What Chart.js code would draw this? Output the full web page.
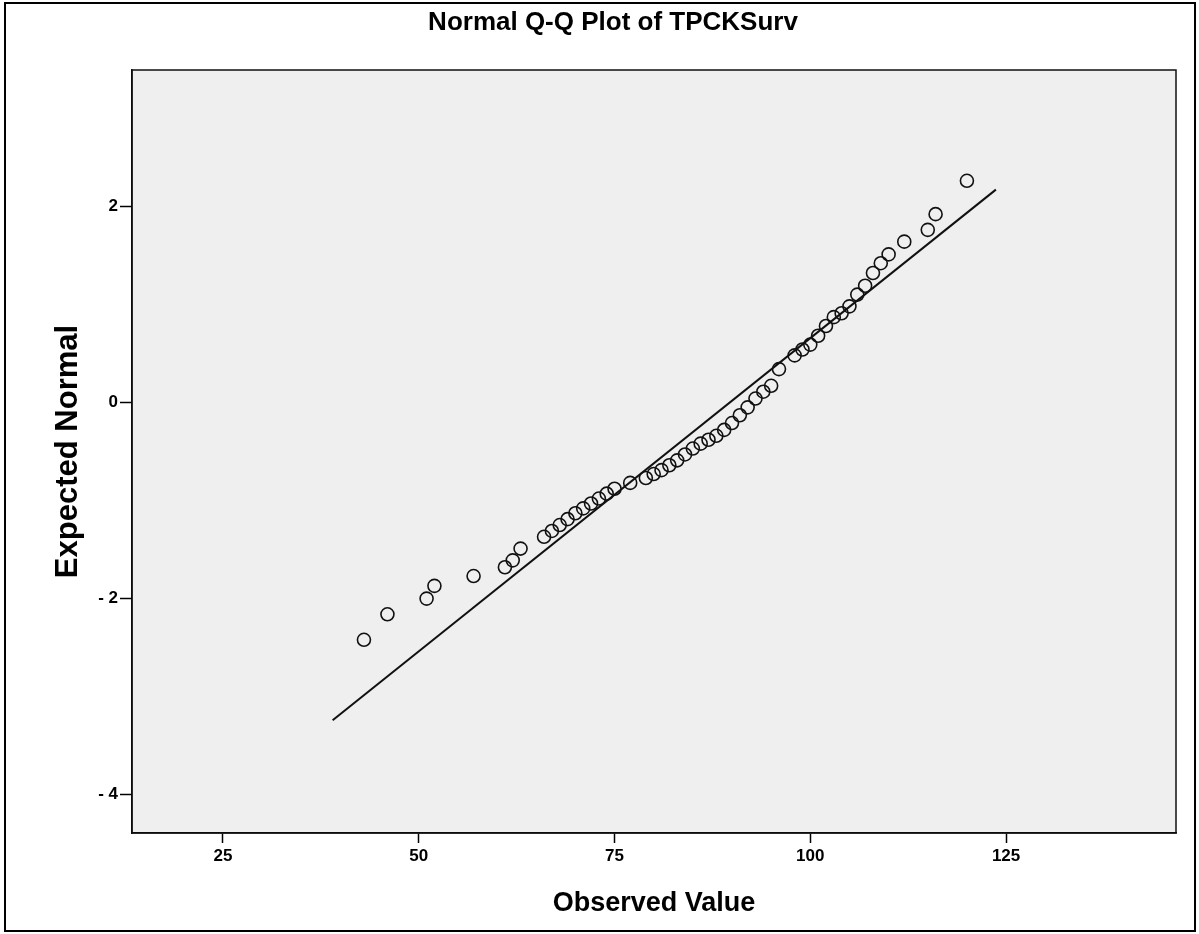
<!DOCTYPE html>
<html lang="en">
<head>
<meta charset="UTF-8">
<title>Normal Q-Q Plot of TPCKSurv</title>
<script src="https://cdn.jsdelivr.net/npm/chart.js"></script>
<style>
  html, body { margin: 0; padding: 0; background: #fff; }
  #wrap { position: relative; width: 1199px; height: 934px; }
</style>
</head>
<body>
<div id="wrap"><canvas id="qq"></canvas></div>
<script>
const observed = [43, 46, 51, 52, 57, 61, 62, 63, 66, 67, 68, 69, 70, 71, 72, 73, 74, 75, 77,
  79, 80, 81, 82, 83, 84, 85, 86, 87, 88, 89, 90, 91, 92, 93, 94, 95, 96,
  98, 99, 100, 101, 102, 103, 104, 105, 106, 107, 108, 109, 110, 112, 115, 116, 120];
const expected = [-2.42, -2.16, -2.00, -1.87, -1.77, -1.68, -1.61, -1.49, -1.37, -1.31, -1.25, -1.19, -1.13, -1.08, -1.03, -0.98, -0.93, -0.88, -0.82,
  -0.77, -0.73, -0.69, -0.64, -0.59, -0.53, -0.47, -0.42, -0.38, -0.34, -0.28, -0.21, -0.13, -0.05, 0.04, 0.11, 0.17, 0.34,
  0.48, 0.54, 0.59, 0.68, 0.78, 0.87, 0.91, 0.98, 1.10, 1.19, 1.32, 1.42, 1.51, 1.64, 1.76, 1.92, 2.26];

// reference line end points
const lineX = [39.0, 123.7];
const lineY = [-3.24, 2.17];

const xTicks = [25, 50, 75, 100, 125];
const yTicks = [2, 0, -2, -4];
const xRange = [13.38, 146.7];
const yRange = [-4.39, 3.39];

const FONT = "'Liberation Sans', Arial, Helvetica, sans-serif";

const points = observed.map((v, i) => ({ x: v, y: expected[i] }));
const refLine = lineX.map((v, i) => ({ x: v, y: lineY[i] }));

// grey plot area, outer frame and box around the plot
const frame = {
  id: 'frame',
  beforeDraw(chart) {
    const { ctx, chartArea: a } = chart;
    ctx.save();
    ctx.fillStyle = '#ffffff';
    ctx.fillRect(0, 0, chart.width, chart.height);
    ctx.fillStyle = '#efefef';
    ctx.fillRect(a.left, a.top, a.right - a.left, a.bottom - a.top);
    ctx.strokeStyle = '#000';
    ctx.lineWidth = 2;
    ctx.strokeRect(5, 3, chart.width - 9, chart.height - 6);
    ctx.restore();
  },
  afterDraw(chart) {
    const { ctx, chartArea: a } = chart;
    ctx.save();
    ctx.strokeStyle = '#111';
    ctx.lineWidth = 1.5;
    ctx.strokeRect(a.left, a.top, a.right - a.left, a.bottom - a.top);
    ctx.restore();
  }
};

new Chart(document.getElementById('qq'), {
  type: 'scatter',
  data: {
    datasets: [{
      label: 'Observed',
      data: points,
      pointStyle: 'circle',
      pointRadius: 6.5,
      backgroundColor: 'rgba(0,0,0,0)',
      borderColor: '#111',
      borderWidth: 1.6
    }, {
      label: 'Line',
      data: refLine,
      showLine: true,
      borderColor: '#111',
      borderWidth: 2,
      pointRadius: 0
    }]
  },
  options: {
    responsive: true,
    maintainAspectRatio: false,
    animation: false,
    layout: { padding: { left: 50, right: 23, top: 0, bottom: 0 } },
    plugins: {
      legend: { display: false },
      tooltip: { enabled: false },
      title: {
        display: true,
        text: 'Normal Q-Q Plot of TPCKSurv',
        color: '#000',
        font: { family: FONT, size: 26, weight: 'bold', lineHeight: 1.2 },
        padding: { top: 7, bottom: 31.8 }
      }
    },
    scales: {
      x: {
        type: 'linear',
        position: 'bottom',
        min: xRange[0],
        max: xRange[1],
        afterBuildTicks: s => { s.ticks = xTicks.map(v => ({ value: v })); },
        afterFit: s => { s.height = 101; },
        grid: { drawOnChartArea: false, drawTicks: true, tickLength: 10, tickColor: '#000', tickWidth: 1.5 },
        border: { display: true, color: '#000', width: 1.5 },
        ticks: { color: '#000', padding: 3, maxRotation: 0, font: { family: FONT, size: 17, weight: 'bold' } },
        title: {
          display: true,
          text: 'Observed Value',
          color: '#000',
          font: { family: FONT, size: 27, weight: 'bold', lineHeight: 1 },
          padding: { top: 17, bottom: 17 }
        }
      },
      y: {
        type: 'linear',
        min: yRange[0],
        max: yRange[1],
        afterBuildTicks: s => { s.ticks = yTicks.map(v => ({ value: v })); },
        afterFit: s => { s.width = 82; },
        grid: { drawOnChartArea: false, drawTicks: true, tickLength: 12, tickColor: '#000', tickWidth: 1.5 },
        border: { display: true, color: '#000', width: 1.5 },
        ticks: {
          color: '#000',
          padding: 2,
          font: { family: FONT, size: 17, weight: 'bold' },
          callback: v => (v < 0 ? '- ' + Math.abs(v) : String(v))
        },
        title: {
          display: true,
          text: 'Expected Normal',
          color: '#000',
          font: { family: FONT, size: 31, weight: 'bold', lineHeight: 1 },
          padding: { top: 3, bottom: 3 }
        }
      }
    }
  },
  plugins: [frame]
});
</script>
</body>
</html>
